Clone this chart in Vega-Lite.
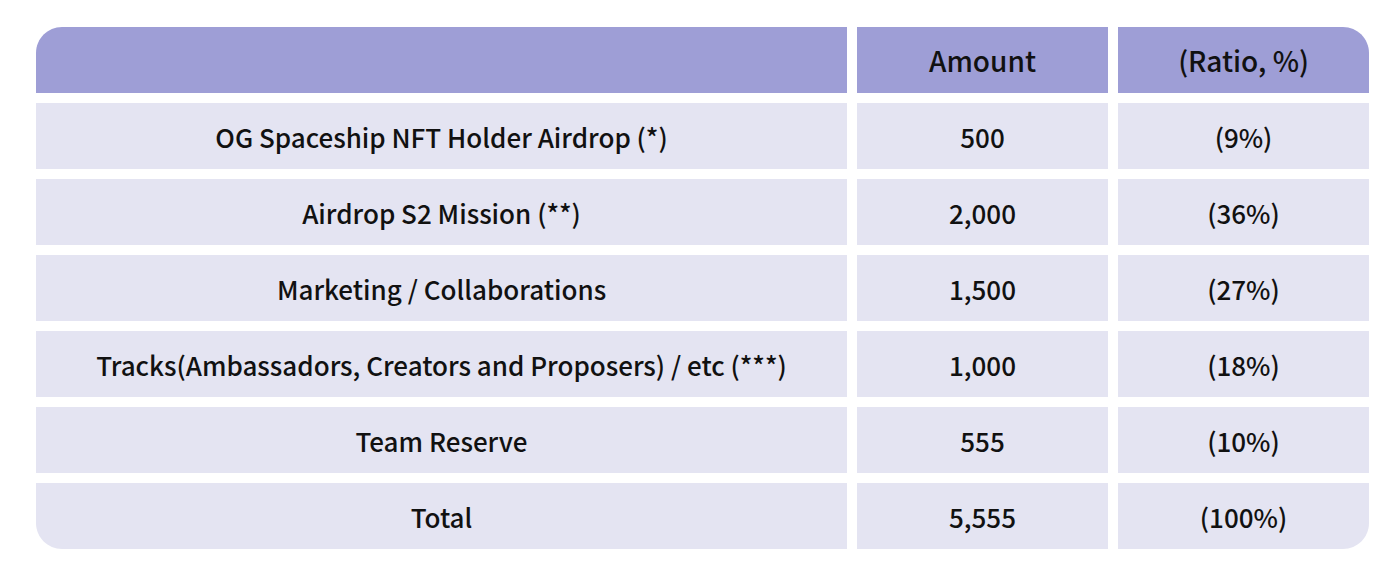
{
  "$schema": "https://vega.github.io/schema/vega-lite/v6.json",
  "background": "#ffffff",
  "padding": {"left": 36, "top": 27, "right": 0, "bottom": 0},
  "config": {"view": {"stroke": null}, "concat": {"spacing": 10},
             "text": {"font": "'Noto Sans CJK KR Medium', 'Noto Sans CJK KR'", "fontSize": 26, "fontWeight": 400, "color": "#111111", "align": "center", "baseline": "middle", "dy": 4}},
  "datasets": {
    "table": [
      {"row": "header", "label": "", "amount": "Amount", "ratio": "(Ratio, %)"},
      {"row": "r1", "label": "OG Spaceship NFT Holder Airdrop (*)", "amount": "500", "ratio": "(9%)"},
      {"row": "r2", "label": "Airdrop S2 Mission (**)", "amount": "2,000", "ratio": "(36%)"},
      {"row": "r3", "label": "Marketing / Collaborations", "amount": "1,500", "ratio": "(27%)"},
      {"row": "r4", "label": "Tracks(Ambassadors, Creators and Proposers) / etc (***)", "amount": "1,000", "ratio": "(18%)"},
      {"row": "r5", "label": "Team Reserve", "amount": "555", "ratio": "(10%)"},
      {"row": "total", "label": "Total", "amount": "5,555", "ratio": "(100%)"}
    ]
  },
  "hconcat": [
    {
      "width": 811, "height": 522,
      "data": {"name": "table"},
      "encoding": {
        "y": {"field": "row", "type": "nominal", "sort": null, "axis": null,
              "scale": {"domain": ["header","r1","r2","r3","r4","r5","total"], "paddingInner": 0.1316, "paddingOuter": 0}}
      },
      "layer": [
        {"transform": [{"filter": "datum.row != 'header' && datum.row != 'total'"}], "mark": {"type": "rect", "color": "#e4e4f2"}},
        {"transform": [{"filter": "datum.row == 'header'"}], "mark": {"type": "rect", "color": "#9e9ed6", "cornerRadiusTopLeft": 26}},
        {"transform": [{"filter": "datum.row == 'total'"}], "mark": {"type": "rect", "color": "#e4e4f2", "cornerRadiusBottomLeft": 26}},
        {"mark": {"type": "text"}, "encoding": {"text": {"field": "label", "type": "nominal"}}}
      ]
    },
    {
      "width": 251, "height": 522,
      "data": {"name": "table"},
      "encoding": {
        "y": {"field": "row", "type": "nominal", "sort": null, "axis": null,
              "scale": {"domain": ["header","r1","r2","r3","r4","r5","total"], "paddingInner": 0.1316, "paddingOuter": 0}}
      },
      "layer": [
        {"transform": [{"filter": "datum.row != 'header'"}], "mark": {"type": "rect", "color": "#e4e4f2"}},
        {"transform": [{"filter": "datum.row == 'header'"}], "mark": {"type": "rect", "color": "#9e9ed6"}},
        {"mark": {"type": "text"}, "encoding": {"text": {"field": "amount", "type": "nominal"},
          "size": {"condition": {"test": "datum.row == 'header'", "value": 28}, "value": 26}}}
      ]
    },
    {
      "width": 251, "height": 522,
      "data": {"name": "table"},
      "encoding": {
        "y": {"field": "row", "type": "nominal", "sort": null, "axis": null,
              "scale": {"domain": ["header","r1","r2","r3","r4","r5","total"], "paddingInner": 0.1316, "paddingOuter": 0}}
      },
      "layer": [
        {"transform": [{"filter": "datum.row != 'header' && datum.row != 'total'"}], "mark": {"type": "rect", "color": "#e4e4f2"}},
        {"transform": [{"filter": "datum.row == 'header'"}], "mark": {"type": "rect", "color": "#9e9ed6", "cornerRadiusTopRight": 26}},
        {"transform": [{"filter": "datum.row == 'total'"}], "mark": {"type": "rect", "color": "#e4e4f2", "cornerRadiusBottomRight": 26}},
        {"mark": {"type": "text"}, "encoding": {"text": {"field": "ratio", "type": "nominal"},
          "size": {"condition": {"test": "datum.row == 'header'", "value": 28}, "value": 26}}}
      ]
    }
  ]
}
